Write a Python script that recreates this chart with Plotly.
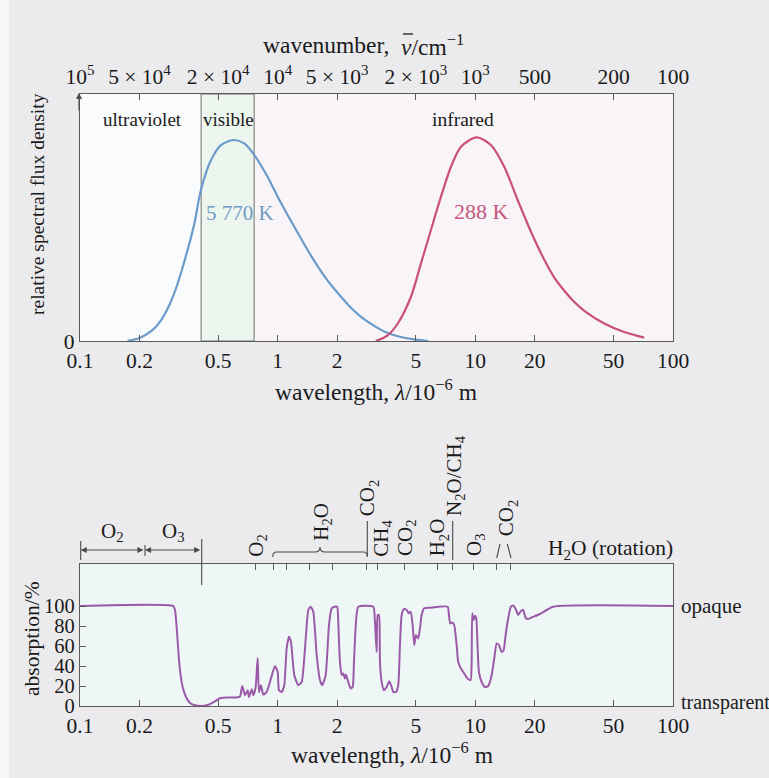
import math
import plotly.graph_objects as go

# ---------------- data ----------------
wavelength_ticks = [0.1, 0.2, 0.5, 1, 2, 5, 10, 20, 50, 100]
wavelength_ticktext = ["0.1", "0.2", "0.5", "1", "2", "5", "10", "20", "50", "100"]
wavenumber_ticktext = ["10<sup>5</sup>", "5 × 10<sup>4</sup>", "2 × 10<sup>4</sup>", "10<sup>4</sup>",
                       "5 × 10<sup>3</sup>", "2 × 10<sup>3</sup>", "10<sup>3</sup>", "500", "200", "100"]

sun_wl = [0.174, 0.20, 0.23, 0.257, 0.285, 0.312, 0.345, 0.379, 0.409, 0.46, 0.517, 0.598, 0.678,
          0.762, 0.889, 1.0, 1.214, 1.474, 1.79, 2.05, 2.35, 2.64, 3.08, 3.5, 4.2, 5.0, 5.8]
sun_flux = [0, 0.015, 0.05, 0.103, 0.185, 0.286, 0.43, 0.585, 0.751, 0.90, 0.975, 1.0, 0.983,
            0.925, 0.817, 0.718, 0.568, 0.425, 0.30, 0.23, 0.165, 0.12, 0.075, 0.045, 0.02, 0.007, 0.0]

earth_wl = [3.14, 3.6, 4.05, 4.72, 5.31, 5.96, 6.70, 7.53, 8.46, 10.15, 11.99, 14.0, 16.4, 19.1,
            22.3, 25.0, 28.2, 31.6, 35.6, 44.9, 56.6, 71.5]
earth_flux = [0, 0.028, 0.087, 0.219, 0.386, 0.552, 0.718, 0.867, 0.967, 1.013, 0.975, 0.867, 0.70,
              0.545, 0.405, 0.318, 0.25, 0.195, 0.15, 0.087, 0.045, 0.017]

visible_band = [0.41, 0.76]

abs_wl = [0.1, 0.2965, 0.3024, 0.3083, 0.3141, 0.3204, 0.3306, 0.3438, 0.3601, 0.3817, 0.4127, 0.4375,
          0.4724, 0.5107, 0.5521, 0.6204, 0.6448, 0.6623, 0.6834, 0.7053, 0.7160, 0.7389, 0.7528, 0.7739,
          0.7921, 0.8042, 0.8231, 0.8456, 0.8799, 0.9249, 0.9690, 1.0, 1.0153, 1.0477, 1.0799, 1.1105,
          1.1408, 1.1677, 1.2134, 1.2713, 1.3226, 1.3907, 1.4284, 1.4689, 1.5142, 1.5754, 1.6368, 1.6812,
          1.7492, 1.8178, 1.8757, 1.9491, 2.0022, 2.0255, 2.0660, 2.1073, 2.1470, 2.1900, 2.2158, 2.2759,
          2.3406, 2.3957, 2.4319, 2.4897, 2.5571, 3.0452, 3.1061, 3.1681, 3.2048, 3.2539, 3.2924, 3.3583,
          3.4493, 3.5597, 3.6689, 3.7733, 3.8443, 3.9668, 4.0738, 4.1555, 4.2387, 4.3538, 4.4933, 4.5990,
          4.7071, 4.8185, 4.9081, 5.0063, 5.1430, 5.2459, 5.3509, 5.5147, 5.8937, 7.2428, 7.3536, 7.4660,
          7.6417, 7.8215, 8.0425, 8.1939, 8.4566, 8.7882, 9.1433, 9.4674, 9.5791, 9.6455, 9.8044, 9.9540,
          10.107, 10.271, 10.428, 10.762, 11.183, 11.622, 12.093, 12.464, 12.817, 13.166, 13.584, 13.906,
          14.233, 14.669, 15.139, 15.550, 15.993, 16.482, 17.010, 17.472, 17.967, 18.521, 19.268, 21.228,
          24.77, 100]
abs_pct = [100, 100, 96, 79, 56, 36, 19, 9, 3, 0.7, 0, 0.7,
           3.7, 7.7, 8.4, 8.6, 9.5, 20, 10.7, 15.7, 9, 16.7, 10.7, 19,
           48, 14, 20.8, 11.4, 14, 27.5, 40, 34, 15.7, 14, 20.8, 57.6,
           69.2, 64, 30.8, 20.8, 24, 71, 96, 99.3, 94.3, 51, 25.8, 20.8,
           30.8, 81, 97.7, 99.3, 99.3, 84, 44, 31, 32.5, 27.5, 31.5, 24,
           17.5, 19, 44, 84, 99.3, 99.3, 84, 54, 91, 91, 44, 24,
           15.7, 19, 24.8, 19, 14, 14, 20.8, 61, 91, 97, 96, 92.7,
           94.3, 81, 61, 71, 67.6, 77.6, 91, 97.7, 98.3, 99.3, 91, 82.6,
           83.6, 81, 61, 44, 37.5, 32.5, 27.5, 25.8, 44, 92.7, 86, 90.3,
           87.7, 57.6, 34, 24, 19, 20, 30.8, 47.5, 62.6, 61, 54, 55.8,
           71, 87.7, 99.3, 100.5, 97, 91, 95, 96, 88, 87, 88.5, 92,
           99.3, 100]

absorption_ticks = [0, 20, 40, 60, 80, 100]
band_ticks = [0.77, 0.95, 1.11, 1.45, 1.9, 2.8, 3.2, 4.4, 6.4, 7.7, 9.8, 12.8, 15]

# ---------------- layout helpers ----------------
W, H = 769, 778
X0, X1 = 80, 673          # plot left/right (px)
T_TOP, T_BOT = 94, 341    # top panel
B_TOP, B_BOT = 564, 706   # bottom panel


def PX(x):
    return x / W


def PY(y):
    return 1 - y / H


def lam2px(l):
    return X0 + (X1 - X0) * (math.log10(l) + 1) / 3


FONT = "Liberation Serif, Times New Roman, serif"
AX = "#5a5a5a"
TXT = "#1a1a1a"
TICK_SIZE = 21.5
TITLE_SIZE = 23.5
TOP_YMAX = 1.0 * (T_BOT - T_TOP) / (T_BOT - 140)
BOT_YMAX = 100 * (B_BOT - B_TOP) / (B_BOT - 606)

fig = go.Figure()

# visible band
fig.add_trace(go.Scatter(
    x=[visible_band[0], visible_band[1], visible_band[1], visible_band[0], visible_band[0]],
    y=[0, 0, TOP_YMAX, TOP_YMAX, 0], mode="lines", fill="toself",
    fillcolor="#edf5ef", line=dict(color="#707070", width=1), hoverinfo="skip",
    xaxis="x", yaxis="y"))

fig.add_trace(go.Scatter(x=sun_wl, y=sun_flux, mode="lines", line=dict(color="#6b9bc9", width=2.2,
                         shape="spline", smoothing=0.8), xaxis="x", yaxis="y"))
fig.add_trace(go.Scatter(x=earth_wl, y=earth_flux, mode="lines", line=dict(color="#c9507c", width=2.2,
                         shape="spline", smoothing=0.8), xaxis="x", yaxis="y"))
# dummy trace for wavenumber axis
fig.add_trace(go.Scatter(x=[1], y=[0], mode="markers", marker=dict(opacity=0), hoverinfo="skip",
                         xaxis="x3", yaxis="y"))

fig.add_trace(go.Scatter(x=abs_wl, y=abs_pct, mode="lines", line=dict(color="#9a5aa8", width=2,
                         shape="spline", smoothing=0.5), xaxis="x2", yaxis="y2"))
fig.add_trace(go.Scatter(x=[1], y=[0], mode="markers", marker=dict(opacity=0), hoverinfo="skip",
                         xaxis="x4", yaxis="y2"))

dom_x = [PX(X0), PX(X1)]
tickfont = dict(family=FONT, size=TICK_SIZE, color=TXT)
common_x = dict(type="log", range=[-1, 2], domain=dom_x, tickvals=wavelength_ticks, showgrid=False,
                zeroline=False, ticks="inside", ticklen=6, tickcolor=AX, linecolor=AX, linewidth=1.2,
                showline=True, tickfont=tickfont, automargin=False)

fig.update_layout(
    width=W, height=H, autosize=False, showlegend=False,
    margin=dict(l=0, r=0, t=0, b=0, pad=0),
    paper_bgcolor="#ebebee", plot_bgcolor="rgba(0,0,0,0)",
    font=dict(family=FONT, size=20, color=TXT),
    xaxis=dict(common_x, ticktext=wavelength_ticktext, anchor="y", mirror=False),
    xaxis3=dict(common_x, ticktext=wavenumber_ticktext, overlaying="x", side="top", anchor="y"),
    yaxis=dict(domain=[PY(T_BOT), PY(T_TOP)], range=[0, TOP_YMAX], tickvals=[0], ticktext=["0"],
               ticks="", showgrid=False, zeroline=False, showline=True, mirror=True, linecolor=AX,
               linewidth=1.2, tickfont=tickfont, anchor="x", automargin=False),
    xaxis2=dict(common_x, ticktext=wavelength_ticktext, anchor="y2", mirror=True),
    xaxis4=dict(type="log", range=[-1, 2], domain=dom_x, tickvals=band_ticks, showticklabels=False,
                ticks="inside", ticklen=6, tickcolor=AX, showline=False, showgrid=False, zeroline=False,
                overlaying="x2", side="top", anchor="y2", automargin=False),
    yaxis2=dict(domain=[PY(B_BOT), PY(B_TOP)], range=[0, BOT_YMAX], tickvals=absorption_ticks,
                ticks="inside", ticklen=6, tickcolor=AX, showgrid=False, zeroline=False, showline=True,
                mirror=True, linecolor=AX, linewidth=1.2, tickfont=dict(tickfont, size=20.5), anchor="x2",
                automargin=False),
)

shapes = []
# page left strip
shapes.append(dict(type="rect", xref="paper", yref="paper", x0=0, x1=PX(9), y0=0, y1=1,
                   fillcolor="#f7f7f7", line_width=0, layer="below"))
# panel backgrounds
shapes.append(dict(type="rect", xref="paper", yref="paper", x0=PX(X0), x1=PX(lam2px(visible_band[0])),
                   y0=PY(T_BOT), y1=PY(T_TOP), fillcolor="#fafbfc", line_width=0, layer="below"))
shapes.append(dict(type="rect", xref="paper", yref="paper", x0=PX(lam2px(visible_band[1])), x1=PX(X1),
                   y0=PY(T_BOT), y1=PY(T_TOP), fillcolor="#f9f4f7", line_width=0, layer="below"))
shapes.append(dict(type="rect", xref="paper", yref="paper", x0=PX(X0), x1=PX(X1),
                   y0=PY(B_BOT), y1=PY(B_TOP), fillcolor="#eff7f6", line_width=0, layer="below"))


def seg(x0, y0, x1, y1, w=1.1, color="#4a4a4a"):
    shapes.append(dict(type="line", xref="paper", yref="paper", x0=PX(x0), y0=PY(y0), x1=PX(x1), y1=PY(y1),
                       line=dict(color=color, width=w)))


# O2/O3 bars
seg(80.7, 541, 80.7, 560)
seg(145, 545, 145, 556)
seg(201.7, 539, 201.7, 585)
# CO2 leader, N2O/CH4 leader
seg(367.3, 521, 367.3, 556)
seg(452.7, 521, 452.7, 560)
# CO2 15 um "/\"
seg(496.7, 558, 500, 544)
seg(511, 558, 507.3, 544)
# overbar of the wavenumber symbol
seg(403, 34, 413, 34, w=1.3, color=TXT)


def brace(xa, xb, y, h=5):
    xm = (xa + xb) / 2
    pts = [(xa, y + h), (xa, y), (xa + 4, y), (xm - 5, y), (xm, y), (xm, y - h),
           (xm, y), (xm + 5, y), (xb - 4, y), (xb, y), (xb, y + h)]
    p = "M {},{} Q {},{} {},{} L {},{} Q {},{} {},{} Q {},{} {},{} L {},{} Q {},{} {},{}".format(
        PX(pts[0][0]), PY(pts[0][1]), PX(pts[1][0]), PY(pts[1][1]), PX(pts[2][0]), PY(pts[2][1]),
        PX(pts[3][0]), PY(pts[3][1]), PX(pts[4][0]), PY(pts[4][1]), PX(pts[5][0]), PY(pts[5][1]),
        PX(pts[6][0]), PY(pts[6][1]), PX(pts[7][0]), PY(pts[7][1]), PX(pts[8][0]), PY(pts[8][1]),
        PX(pts[9][0]), PY(pts[9][1]), PX(pts[10][0]), PY(pts[10][1]))
    shapes.append(dict(type="path", xref="paper", yref="paper", path=p,
                       line=dict(color="#4a4a4a", width=1.1)))


brace(272.7, 367.3, 552)
fig.update_layout(shapes=shapes)

ann = []


def text(x, y, s, size=20, color=TXT, angle=0, xanchor="center"):
    ann.append(dict(x=PX(x), y=PY(y), xref="paper", yref="paper", text=s, showarrow=False,
                    textangle=angle, xanchor=xanchor, yanchor="middle",
                    font=dict(family=FONT, size=size, color=color)))


def arrow(xt, yt, xs, ys, both=False):
    ann.append(dict(x=PX(xt), y=PY(yt), ax=xs - xt, ay=ys - yt, xref="paper", yref="paper",
                    axref="pixel", ayref="pixel", text="", showarrow=True, arrowhead=2,
                    arrowside="end+start" if both else "end", startarrowhead=2, arrowsize=1.1,
                    startarrowsize=1.1, arrowwidth=1.1, arrowcolor="#4a4a4a", standoff=0, startstandoff=0))


# titles
text(391, 45, "wavenumber,", TITLE_SIZE, xanchor="right")
text(399, 45, "<i>ν</i>/cm<sup>−1</sup>", TITLE_SIZE, xanchor="left")
text(376, 390, "wavelength, <i>λ</i>/10<sup>−6</sup> m", TITLE_SIZE)
text(392, 753, "wavelength, <i>λ</i>/10<sup>−6</sup> m", TITLE_SIZE)
text(38, 204, "relative spectral flux density", 19.5, angle=-90)
text(32, 639, "absorption/%", 21.5, angle=-90)
# top panel labels
text(142, 120, "ultraviolet", 19)
text(228, 120, "visible", 19)
text(463, 119, "infrared", 19.5)
text(240, 213, "5 770 K", 21, color="#6f9cc8")
text(481, 211, "288 K", 22, color="#c4587f")
# y-axis arrow
arrow(79, 93, 79, 112)
# bottom panel right labels
text(679, 606, "opaque", 21, xanchor="left")
text(679, 702, "transparent", 20, xanchor="left")
# band labels
text(112.7, 532, "O<sub>2</sub>", 21)
text(173.3, 532, "O<sub>3</sub>", 21)
arrow(80.7, 550, 145, 550, both=True)
arrow(145, 550, 201.7, 550, both=True)
text(256.7, 545, "O<sub>2</sub>", 21, angle=-90)
text(321.7, 522, "H<sub>2</sub>O", 21, angle=-90)
text(368.3, 498, "CO<sub>2</sub>", 21, angle=-90)
text(381.7, 538, "CH<sub>4</sub>", 21, angle=-90)
text(406, 538, "CO<sub>2</sub>", 21, angle=-90)
text(438.3, 537, "H<sub>2</sub>O", 21, angle=-90)
text(455, 476, "N<sub>2</sub>O/CH<sub>4</sub>", 21, angle=-90)
text(475, 545, "O<sub>3</sub>", 21, angle=-90)
text(507.3, 518, "CO<sub>2</sub>", 21, angle=-90)
text(610, 549, "H<sub>2</sub>O (rotation)", 21.5)

fig.update_layout(annotations=ann)
fig.write_html("out.html", config={"displayModeBar": False},
               post_script="document.body.style.margin='0';document.body.style.padding='0';"
                           "document.documentElement.style.overflow='hidden';")
